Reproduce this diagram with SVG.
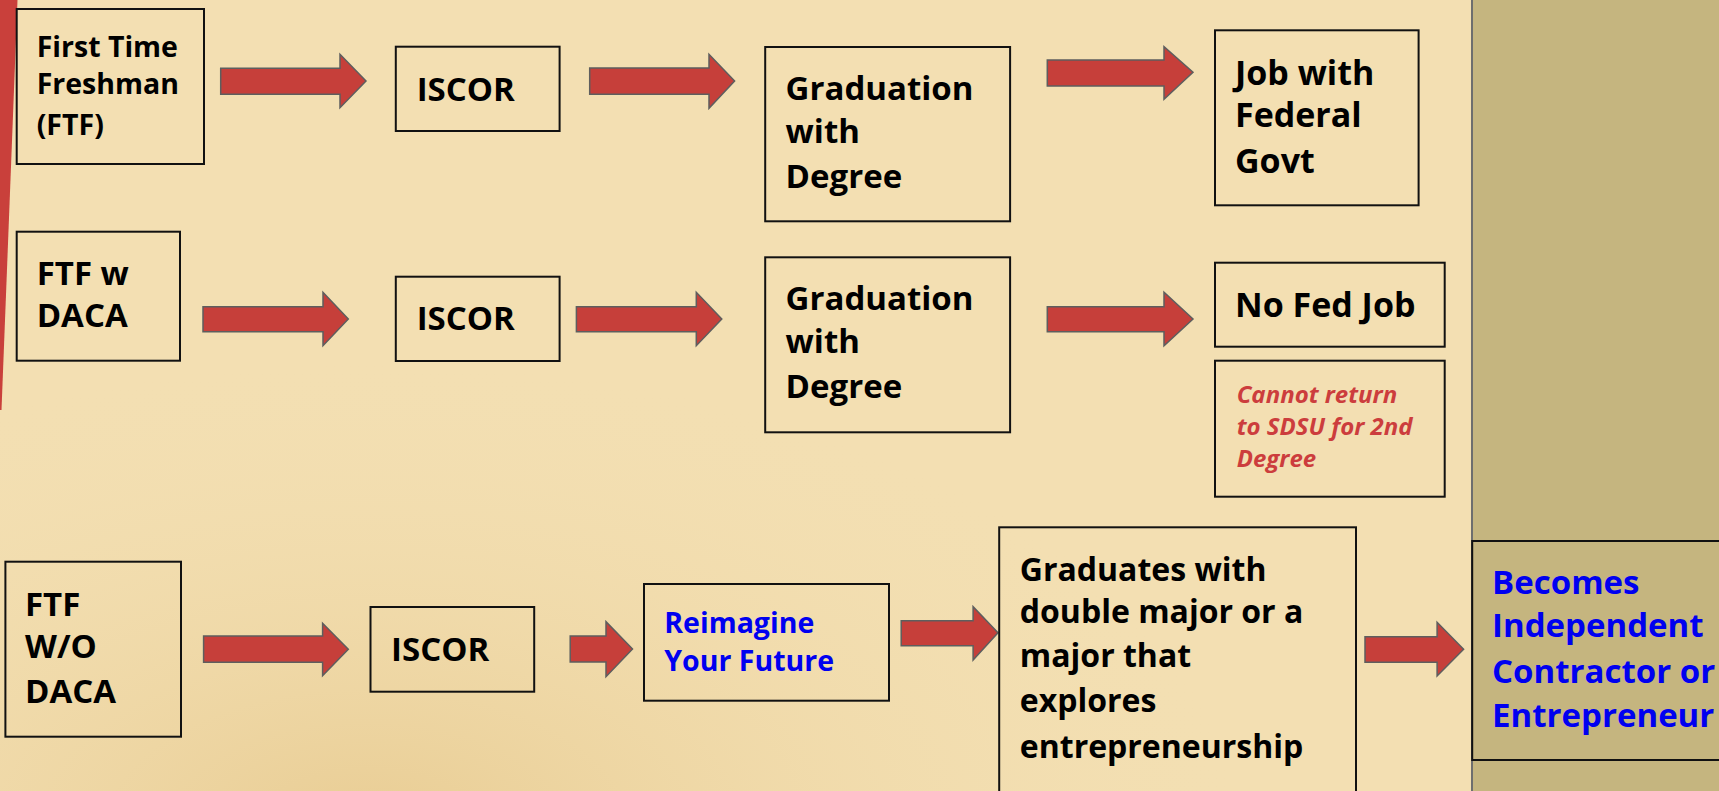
<svg xmlns="http://www.w3.org/2000/svg" width="1719" height="791" viewBox="0 0 1719 791">
<defs>
<radialGradient id="bgshade" cx="0.25" cy="1.05" r="0.6">
<stop offset="0" stop-color="#E6C88C" stop-opacity="0.8"/>
<stop offset="1" stop-color="#F3DFB2" stop-opacity="0"/>
</radialGradient>
<style>
.box{fill:none;stroke:#111;stroke-width:2}
.arrow{fill:#C63F3A;stroke:#5E5E5E;stroke-width:1.5}
.t{font-family:"Open Sans","Noto Sans","DejaVu Sans",sans-serif;font-weight:700;fill:#000}
.blue{fill:#0000F0}
.red{fill:#CC3D3D;font-style:italic}
</style>
</defs>
<rect x="0" y="0" width="1719" height="791" fill="#F3DFB2"/>
<rect x="0" y="0" width="1472" height="791" fill="url(#bgshade)"/>
<polygon points="0,0 17.5,0 1.5,410 0,410" fill="#C9403B"/>
<rect x="1472" y="0" width="247" height="791" fill="#C5B57F"/>
<line x1="1472" y1="0" x2="1472" y2="791" stroke="#6E6E6E" stroke-width="2"/>

<g id="connectors">
<polygon class="arrow" points="220.7,68.3 340,68.3 340,54.3 366,81 340,107.7 340,94.3 220.7,94.3"/>
<polygon class="arrow" points="589.7,68 709,68 709,54.3 734.6,81 709,108.3 709,94.3 589.7,94.3"/>
<polygon class="arrow" points="1047.3,60 1164,60 1164,46.7 1193,72.3 1164,99.3 1164,86 1047.3,86"/>
<polygon class="arrow" points="203,306.7 323,306.7 323,292.3 348.3,319 323,345.7 323,331.7 203,331.7"/>
<polygon class="arrow" points="576.4,306.7 696.3,306.7 696.3,292.3 721.8,319 696.3,345.7 696.3,331.7 576.4,331.7"/>
<polygon class="arrow" points="1047.3,306.7 1164,306.7 1164,292.3 1193,319 1164,345.7 1164,331.7 1047.3,331.7"/>
<polygon class="arrow" points="203.6,636 322.6,636 322.6,623.3 348.3,649.3 322.6,675.7 322.6,662.3 203.6,662.3"/>
<polygon class="arrow" points="570.2,636 606,636 606,621.7 632.5,649 606,676.7 606,662 570.2,662"/>
<polygon class="arrow" points="901.2,620.7 973.1,620.7 973.1,606.7 998,632.7 973.1,660 973.1,645.7 901.2,645.7"/>
<polygon class="arrow" points="1365,636.7 1437.1,636.7 1437.1,622.3 1463.6,649.3 1437.1,676 1437.1,662.3 1365,662.3"/>
</g>

<g id="n1">
<rect class="box" x="16.7" y="9" width="187.3" height="155"/>
<text class="t" font-size="28.5"><tspan x="36.7" y="56.7">First Time</tspan><tspan x="36.7" y="94.3">Freshman</tspan><tspan x="36.7" y="135">(FTF)</tspan></text>
</g>
<g id="n2">
<rect class="box" x="395.8" y="46.7" width="163.8" height="84.3"/>
<text class="t" font-size="33" x="416.7" y="100.7">ISCOR</text>
</g>
<g id="n3">
<rect class="box" x="765.2" y="47" width="244.9" height="174.3"/>
<text class="t" font-size="33"><tspan x="785.6" y="100">Graduation</tspan><tspan x="785.6" y="143.3">with</tspan><tspan x="785.6" y="188.3">Degree</tspan></text>
</g>
<g id="n4">
<rect class="box" x="1215" y="30.3" width="203.6" height="175"/>
<text class="t" font-size="34"><tspan x="1235" y="85">Job with</tspan><tspan x="1235" y="127.3">Federal</tspan><tspan x="1235" y="172.7">Govt</tspan></text>
</g>
<g id="n5">
<rect class="box" x="16.7" y="231.7" width="163.3" height="129"/>
<text class="t" font-size="33"><tspan x="36.7" y="285">FTF w</tspan><tspan x="36.7" y="326.7">DACA</tspan></text>
</g>
<g id="n6">
<rect class="box" x="395.8" y="276.7" width="163.8" height="84.3"/>
<text class="t" font-size="33" x="416.7" y="330">ISCOR</text>
</g>
<g id="n7">
<rect class="box" x="765.2" y="257.3" width="244.9" height="175"/>
<text class="t" font-size="33"><tspan x="785.6" y="310">Graduation</tspan><tspan x="785.6" y="353.3">with</tspan><tspan x="785.6" y="398.3">Degree</tspan></text>
</g>
<g id="n8">
<rect class="box" x="1215" y="262.7" width="229.7" height="84"/>
<text class="t" font-size="34" x="1235" y="316.7">No Fed Job</text>
</g>
<g id="n9">
<rect class="box" x="1215" y="360.7" width="229.7" height="136"/>
<text class="t red" font-size="24"><tspan x="1236.7" y="403.3">Cannot return</tspan><tspan x="1236.7" y="435">to SDSU for 2nd</tspan><tspan x="1236.7" y="466.7">Degree</tspan></text>
</g>
<g id="n10">
<rect class="box" x="5.4" y="561.7" width="175.6" height="175"/>
<text class="t" font-size="33"><tspan x="25" y="615.7">FTF</tspan><tspan x="25" y="657.7">W/O</tspan><tspan x="25" y="703.3">DACA</tspan></text>
</g>
<g id="n11">
<rect class="box" x="370.5" y="607" width="163.7" height="84.7"/>
<text class="t" font-size="33" x="391.1" y="661">ISCOR</text>
</g>
<g id="n12">
<rect class="box" x="644" y="584" width="245" height="116.7"/>
<text class="t blue" font-size="28.5"><tspan x="664.3" y="632.7">Reimagine</tspan><tspan x="664.3" y="670.7">Your Future</tspan></text>
</g>
<g id="n13">
<rect class="box" x="999.2" y="527.3" width="356.8" height="280"/>
<text class="t" font-size="32"><tspan x="1019.8" y="581">Graduates with</tspan><tspan x="1019.8" y="622.7">double major or a</tspan><tspan x="1019.8" y="666.7">major that</tspan><tspan x="1019.8" y="711.7">explores</tspan><tspan x="1019.8" y="758.3">entrepreneurship</tspan></text>
</g>
<g id="n14">
<rect class="box" x="1472.2" y="541" width="260" height="219" fill="#C5B57F"/>
<text class="t blue" font-size="33"><tspan x="1492.1" y="594">Becomes</tspan><tspan x="1492.1" y="637.3">Independent</tspan><tspan x="1492.1" y="682.7">Contractor or</tspan><tspan x="1492.1" y="727.3">Entrepreneur</tspan></text>
</g>
</svg>
